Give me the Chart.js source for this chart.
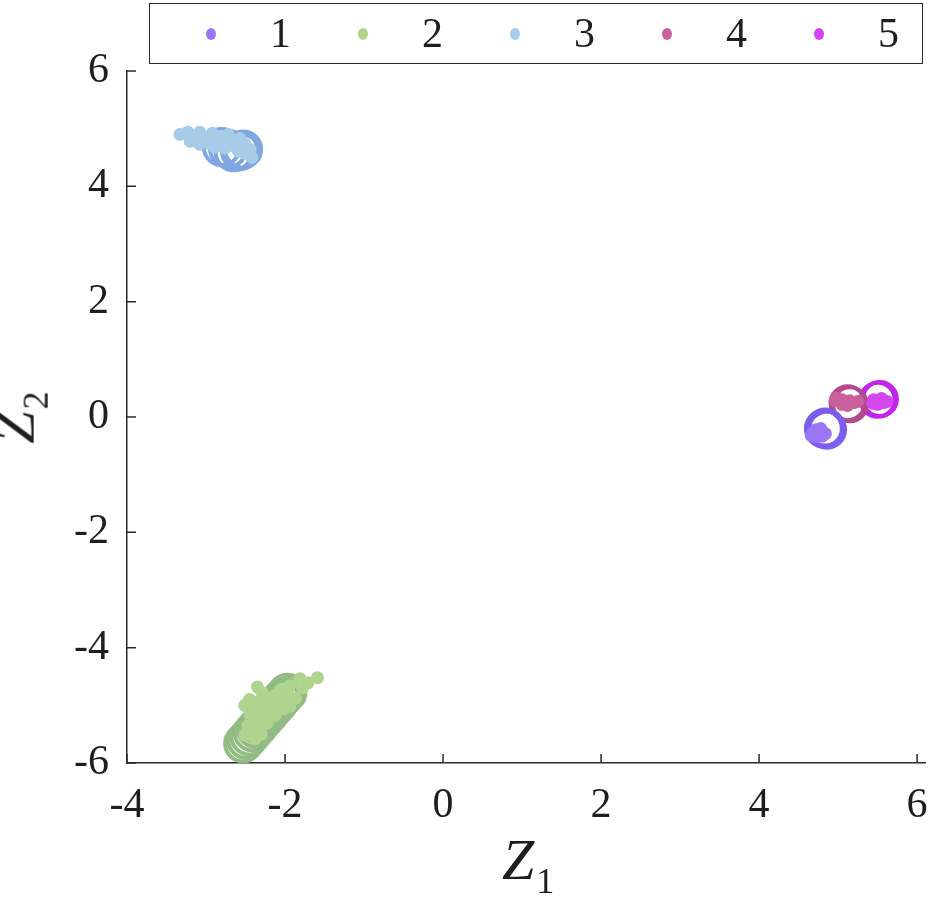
<!DOCTYPE html>
<html>
<head>
<meta charset="utf-8">
<title>Z1 / Z2 scatter</title>
<script src="https://cdn.jsdelivr.net/npm/chart.js@4.4.1/dist/chart.umd.min.js"></script>
<style>
  body { margin: 0; background: #fff; }
  #wrap { position: relative; width: 931px; height: 900px; font-family: "Liberation Serif", "DejaVu Serif", serif; color: #1e1e1e; }
  #legend { position: absolute; left: 149px; top: 3px; width: 774px; height: 61px; border: 1.5px solid #2a2a2a; box-sizing: border-box; }
  .item { position: absolute; top: 0; height: 100%; }
  .dot { position: absolute; top: 24px; width: 10px; height: 12px; border-radius: 50%; }
  .lbl { position: absolute; top: 5px; font-size: 42px; line-height: 48px; }
  #xlabel { position: absolute; left: 502px; top: 826px; font-size: 58px; font-style: italic; }
  #ylabel { position: absolute; left: -12px; top: 384px; font-size: 58px; font-style: italic; transform: rotate(-90deg); transform-origin: center; }
  .sub { font-style: normal; font-size: 36px; position: relative; top: 14px; margin-left: 2px; }
</style>
</head>
<body>
<div id="wrap">
  <canvas id="chart" width="931" height="900"></canvas>
  <div id="legend"></div>
  <div id="xlabel">Z<span class="sub">1</span></div>
  <div id="ylabel">Z<span class="sub">2</span></div>
</div>
<script>
// cluster labels and colours (light = points, dark = rings)
const labels = ['1', '2', '3', '4', '5'];
const pointColors = ['#9a76f4', '#aed48e', '#a8cbe8', '#c9609c', '#d646f0'];
const ringColors = ['#7d5cf0', '#93bb84', '#80a6e2', '#b24a8c', '#c324ea'];

const xTicks = [-4, -2, 0, 2, 4, 6];
const yTicks = [-6, -4, -2, 0, 2, 4, 6];

// small filled points per cluster
const pts1 = [[4.68, -0.28], [4.72, -0.22], [4.75, -0.31], [4.8, -0.25], [4.72, -0.34], [4.84, -0.29],
  [4.78, -0.2], [4.66, -0.32], [4.8, -0.33]];
const pts2 = [[-1.81, -4.54], [-1.59, -4.52], [-1.71, -4.61], [-1.94, -4.66], [-2.06, -4.74], [-2.35, -4.68],
  [-2.29, -4.78], [-2.19, -4.88], [-2.0, -4.92], [-1.87, -4.88], [-2.51, -5.0], [-2.38, -4.95], [-2.25, -5.06],
  [-2.09, -5.09], [-1.94, -5.02], [-2.44, -5.18], [-2.29, -5.23], [-2.13, -5.18], [-2.47, -5.35], [-2.34, -5.4],
  [-2.22, -5.3], [-2.51, -5.52], [-2.38, -5.58], [-2.12, -4.82], [-2.4, -5.1], [-2.2, -5.0],
  [-2.45, -5.05], [-2.32, -5.12], [-2.18, -5.12], [-2.05, -5.0], [-2.4, -5.28], [-2.28, -5.35], [-2.42, -5.48],
  [-2.3, -5.5], [-2.15, -4.95], [-2.27, -4.9], [-1.97, -4.8], [-1.78, -4.7], [-2.02, -5.06], [-2.45, -4.9]];
const pts3 = [[-3.33, 4.9], [-3.23, 4.94], [-3.14, 4.87], [-3.2, 4.78], [-3.08, 4.94], [-3.01, 4.83],
  [-2.95, 4.74], [-2.92, 4.92], [-2.82, 4.87], [-2.85, 4.74], [-2.72, 4.9], [-2.7, 4.78], [-2.63, 4.69],
  [-2.57, 4.83], [-2.51, 4.74], [-2.44, 4.64], [-2.51, 4.57], [-2.42, 4.5], [-2.59, 4.61], [-2.76, 4.66],
  [-2.89, 4.68], [-3.08, 4.73]];
const pts4 = [[4.98, 0.33], [5.05, 0.3], [5.1, 0.26], [5.15, 0.28], [5.2, 0.25], [5.25, 0.27], [5.05, 0.22],
  [5.12, 0.2], [4.96, 0.28]];
const pts5 = [[5.45, 0.3], [5.52, 0.27], [5.58, 0.25], [5.62, 0.27], [5.5, 0.22], [5.55, 0.32], [5.44, 0.24]];

// big hollow rings per cluster
const rings1 = [[4.82, -0.2], [4.86, -0.22], [4.84, -0.18]];
const rings2 = [[-2.53, -5.66], [-2.49, -5.6], [-2.45, -5.54], [-2.41, -5.47], [-2.37, -5.41], [-2.33, -5.35],
  [-2.29, -5.28], [-2.25, -5.22], [-2.21, -5.16], [-2.17, -5.09], [-2.13, -5.03], [-2.09, -4.97],
  [-2.05, -4.9], [-2.01, -4.84], [-1.97, -4.78]];
const rings3 = [[-2.8, 4.68], [-2.72, 4.65], [-2.65, 4.59], [-2.57, 4.61], [-2.53, 4.64]];
const rings4 = [[5.12, 0.24], [5.15, 0.22]];
const rings5 = [[5.5, 0.3], [5.53, 0.31]];

const allPts = [pts1, pts2, pts3, pts4, pts5];
const allRings = [rings1, rings2, rings3, rings4, rings5];
const ringSizes = [18, 18, 18, 17, 17];

const toXY = arr => arr.map(p => ({ x: p[0], y: p[1] }));

const datasets = [];
allPts.forEach((pts, i) => {
  datasets.push({
    label: labels[i],
    data: toXY(pts),
    backgroundColor: pointColors[i],
    borderWidth: 0,
    pointRadius: 6.5,
    order: 0
  });
});
allRings.forEach((ring, i) => {
  datasets.push({
    label: 'ring ' + labels[i],
    data: toXY(ring),
    backgroundColor: 'rgba(0,0,0,0)',
    borderColor: ringColors[i],
    borderWidth: 4,
    pointRadius: ringSizes[i],
    order: 1
  });
});

// tick marks drawn on the inside of the axes
const innerTicks = {
  id: 'innerTicks',
  afterDraw(chart) {
    const ctx = chart.ctx;
    const x = chart.scales.x, y = chart.scales.y;
    ctx.save();
    ctx.strokeStyle = '#2a2a2a';
    ctx.lineWidth = 1.5;
    ctx.beginPath();
    xTicks.forEach(v => {
      const px = x.getPixelForValue(v);
      ctx.moveTo(px, y.bottom);
      ctx.lineTo(px, y.bottom - 9);
    });
    yTicks.forEach(v => {
      const py = y.getPixelForValue(v);
      ctx.moveTo(x.left, py);
      ctx.lineTo(x.left + 9, py);
    });
    ctx.stroke();
    ctx.restore();
  }
};

const tickFont = { family: '"Liberation Serif", serif', size: 42 };

new Chart(document.getElementById('chart'), {
  type: 'scatter',
  data: { datasets: datasets },
  options: {
    responsive: false,
    animation: false,
    devicePixelRatio: 1,
    layout: { autoPadding: false, padding: { top: 71, right: 6, left: 0, bottom: 0 } },
    plugins: { legend: { display: false }, tooltip: { enabled: false } },
    scales: {
      x: {
        type: 'linear',
        min: -4, max: 6.1,
        afterBuildTicks: s => { s.ticks = xTicks.map(v => ({ value: v })); },
        afterFit: s => { s.height = 137; s.paddingLeft = 0; s.paddingRight = 0; },
        ticks: { font: tickFont, color: '#1e1e1e', padding: 18, maxRotation: 0, callback: v => String(v) },
        grid: { display: true, drawOnChartArea: false, drawTicks: false },
        border: { display: true, color: '#2a2a2a', width: 1.5 }
      },
      y: {
        type: 'linear',
        min: -6, max: 6,
        afterBuildTicks: s => { s.ticks = yTicks.map(v => ({ value: v })); },
        afterFit: s => { s.width = 127; s.paddingTop = 0; s.paddingBottom = 0; },
        ticks: { font: tickFont, color: '#1e1e1e', padding: 18, callback: v => String(v) },
        grid: { display: true, drawOnChartArea: false, drawTicks: false },
        border: { display: true, color: '#2a2a2a', width: 1.5 }
      }
    }
  },
  plugins: [innerTicks]
});

// legend box with the five point styles
const legend = document.getElementById('legend');
labels.forEach((lab, i) => {
  const item = document.createElement('div');
  item.className = 'item';
  item.style.left = (56 + i * 152) + 'px';
  const dot = document.createElement('span');
  dot.className = 'dot';
  dot.style.background = pointColors[i];
  const txt = document.createElement('span');
  txt.className = 'lbl';
  txt.style.left = '64px';
  txt.textContent = lab;
  item.appendChild(dot);
  item.appendChild(txt);
  legend.appendChild(item);
});
</script>
</body>
</html>
